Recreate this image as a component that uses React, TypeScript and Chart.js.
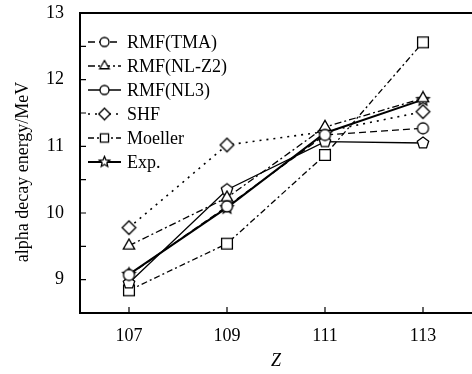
import React, { useEffect, useRef } from 'react';
import { Chart, registerables } from 'chart.js';
Chart.register(...registerables);

const zValues = [107, 109, 111, 113];
const xTicks = [107, 109, 111, 113];
const yTicks = [9, 10, 11, 12, 13];
const yMinorTicks = [8.5, 9, 9.5, 10, 10.5, 11, 11.5, 12, 12.5, 13];
const rmfTMA = [9.07, 10.1, 11.17, 11.27];
const rmfNLZ2 = [9.51, 10.23, 11.29, 11.72];
const rmfNL3 = [8.95, 10.35, 11.07, 11.05];
const shf = [9.78, 11.02, 11.22, 11.52];
const moeller = [8.84, 9.54, 10.87, 12.56];
const expData = [9.08, 10.08, 11.2, 11.7];
const seriesLabels = ['RMF(TMA)', 'RMF(NL-Z2)', 'RMF(NL3)', 'SHF', 'Moeller', 'Exp.'];

const FONT = '"Liberation Serif", "DejaVu Serif", serif';

function makeMarker(kind: string, size: number): HTMLCanvasElement {
  const c = document.createElement('canvas');
  const s = size + 4;
  c.width = s;
  c.height = s;
  const ctx = c.getContext('2d')!;
  const cx = s / 2, cy = s / 2, r = size / 2;
  ctx.lineWidth = 1.3;
  ctx.strokeStyle = '#000';
  ctx.fillStyle = '#fff';
  ctx.beginPath();
  const poly = (n: number, rad: number, rot: number) => {
    for (let i = 0; i < n; i++) {
      const a = rot + (i * 2 * Math.PI) / n;
      const x = cx + rad * Math.cos(a), y = cy + rad * Math.sin(a);
      if (i === 0) ctx.moveTo(x, y); else ctx.lineTo(x, y);
    }
    ctx.closePath();
  };
  if (kind === 'circle') {
    ctx.arc(cx, cy, r, 0, Math.PI * 2);
  } else if (kind === 'triangle') {
    poly(3, r * 1.1, -Math.PI / 2);
  } else if (kind === 'pentagon') {
    poly(5, r, -Math.PI / 2);
  } else if (kind === 'diamond') {
    poly(4, r * 1.05, -Math.PI / 2);
  } else if (kind === 'square') {
    ctx.rect(cx - r * 0.9, cy - r * 0.9, r * 1.8, r * 1.8);
  } else if (kind === 'star') {
    for (let i = 0; i < 10; i++) {
      const a = -Math.PI / 2 + (i * Math.PI) / 5;
      const rad = i % 2 === 0 ? r : r * 0.45;
      const x = cx + rad * Math.cos(a), y = cy + rad * Math.sin(a);
      if (i === 0) ctx.moveTo(x, y); else ctx.lineTo(x, y);
    }
    ctx.closePath();
  }
  ctx.fill();
  ctx.stroke();
  return c;
}

export default function App() {
  const ref = useRef<HTMLCanvasElement>(null);
  useEffect(() => {
    document.body.style.margin = '0';
    let chart: Chart | null = null;
    let cancelled = false;
    const plotMarkers = [
      makeMarker('circle', 11),
      makeMarker('triangle', 12),
      makeMarker('pentagon', 12),
      makeMarker('diamond', 13),
      makeMarker('square', 12),
      makeMarker('star', 13),
    ];
    const legendMarkers = [
      makeMarker('circle', 9),
      makeMarker('triangle', 10),
      makeMarker('circle', 9),
      makeMarker('diamond', 11),
      makeMarker('square', 9),
      makeMarker('star', 11),
    ];
    const dashes = [[7, 4], [7, 3, 2, 3], [], [2, 5], [6, 3, 2, 3], []];
    const widths = [1.3, 1.3, 1.3, 1.6, 1.3, 2];
    const series = [rmfTMA, rmfNLZ2, rmfNL3, shf, moeller, expData];

    const axisPlugin = {
      id: 'axisDeco',
      afterDraw(ch: any) {
        const ctx = ch.ctx;
        const { left, right, top, bottom } = ch.chartArea;
        const xs = ch.scales.x, ys = ch.scales.y;
        ctx.save();
        ctx.strokeStyle = '#000';
        ctx.lineWidth = 2;
        ctx.beginPath();
        ctx.moveTo(left - 1, top);
        ctx.lineTo(right + 2, top);
        ctx.stroke();
        ctx.lineWidth = 1.2;
        ctx.beginPath();
        xTicks.forEach((v) => {
          const px = xs.getPixelForValue(v);
          ctx.moveTo(px, bottom);
          ctx.lineTo(px, bottom - 6);
        });
        yMinorTicks.forEach((v) => {
          const py = ys.getPixelForValue(v);
          ctx.moveTo(left, py);
          ctx.lineTo(left + 6, py);
        });
        ctx.stroke();
        ctx.restore();
      },
      afterDatasetsDraw(ch: any) {
        const ctx = ch.ctx;
        ctx.save();
        const x0 = 88, x1 = 121, tx = 127, y0 = 42, dy = 24;
        ch.data.datasets.forEach((ds: any, i: number) => {
          const y = y0 + i * dy;
          ctx.strokeStyle = '#000';
          ctx.lineWidth = ds.borderWidth;
          ctx.setLineDash(ds.borderDash || []);
          ctx.beginPath();
          ctx.moveTo(x0, y);
          ctx.lineTo(x1, y);
          ctx.stroke();
          ctx.setLineDash([]);
          const m = legendMarkers[i];
          ctx.drawImage(m, (x0 + x1) / 2 - m.width / 2, y - m.height / 2);
          ctx.fillStyle = '#000';
          ctx.font = '18px ' + FONT;
          ctx.textBaseline = 'middle';
          ctx.textAlign = 'left';
          ctx.fillText(ds.label, tx, y + 1);
        });
        ctx.restore();
      },
    };

    const build = () => {
      if (cancelled || !ref.current) return;
      chart = new Chart(ref.current, {
        type: 'line',
        data: {
          datasets: series.map((vals, i) => ({
            label: seriesLabels[i],
            data: zValues.map((z, j) => ({ x: z, y: vals[j] })),
            borderColor: '#000',
            backgroundColor: '#fff',
            borderWidth: widths[i],
            borderDash: dashes[i],
            pointStyle: plotMarkers[i],
            pointRadius: 6,
            tension: 0,
            fill: false,
          })),
        },
        options: {
          animation: false,
          responsive: false,
          maintainAspectRatio: false,
          layout: { autoPadding: false, padding: { top: 13, left: 0, right: 0, bottom: 0 } },
          plugins: { legend: { display: false }, tooltip: { enabled: false } },
          scales: {
            x: {
              type: 'linear',
              min: 106,
              max: 114,
              afterBuildTicks: (s: any) => { s.ticks = xTicks.map((v) => ({ value: v })); },
              afterFit: (s: any) => { s.height = 61; },
              grid: { display: false, drawTicks: true, tickLength: 12 },
              border: { display: true, color: '#000', width: 2 },
              ticks: { color: '#000', font: { family: FONT, size: 18 }, padding: 0, maxRotation: 0 },
              title: { display: true, text: 'Z', color: '#000', font: { family: FONT, size: 18, style: 'italic' }, padding: { top: 0, bottom: 2 } },
            },
            y: {
              type: 'linear',
              min: 8.5,
              max: 13,
              afterBuildTicks: (s: any) => { s.ticks = yTicks.map((v) => ({ value: v })); },
              afterFit: (s: any) => { s.width = 80; },
              grid: { display: false, drawTicks: true, tickLength: 16 },
              border: { display: true, color: '#000', width: 2 },
              ticks: { color: '#000', font: { family: FONT, size: 18 }, padding: 0 },
              title: { display: true, text: 'alpha decay energy/MeV    ', color: '#000', font: { family: FONT, size: 18 }, padding: { top: 12, bottom: 0 } },
            },
          },
        },
        plugins: [axisPlugin],
      });
    };
    const fontsApi = (document as any).fonts;
    if (fontsApi && fontsApi.load) {
      Promise.all([
        fontsApi.load('18px "Liberation Serif"'),
        fontsApi.load('italic 18px "Liberation Serif"'),
      ]).then(build, build);
    } else {
      build();
    }
    return () => {
      cancelled = true;
      if (chart) chart.destroy();
    };
  }, []);
  return (
    <div style={{ width: 472, height: 374 }}>
      <canvas ref={ref} width={472} height={374} style={{ display: 'block' }} />
    </div>
  );
}
